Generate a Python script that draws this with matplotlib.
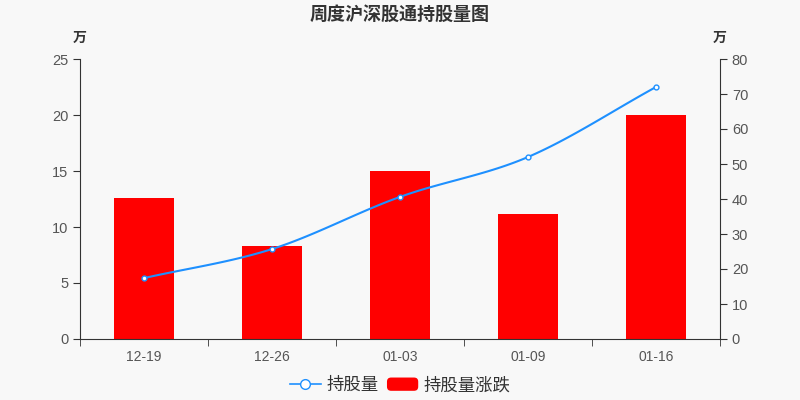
import numpy as np
import matplotlib
matplotlib.use('Agg')
import matplotlib.pyplot as plt
from matplotlib.patches import FancyBboxPatch
from matplotlib.legend_handler import HandlerPatch
from matplotlib.lines import Line2D

plt.rcParams['font.family'] = ['Noto Sans CJK SC', 'DejaVu Sans']

# data
dates = ['12-19', '12-26', '01-03', '01-09', '01-16']
change = [12.6, 8.3, 15.0, 11.2, 20.0]      # 持股量涨跌 (万), left axis
holding = [17.4, 25.7, 40.6, 52.0, 72.0]    # 持股量 (万), right axis

bg = '#f8f8f8'
axis_col = '#333333'
label_col = '#555555'
tick_font = 'Liberation Sans'


def smooth_xy(xs, ys, n=30):
    # cubic hermite between points, for a smooth display line only
    xs = np.asarray(xs, float)
    ys = np.asarray(ys, float)
    m = np.gradient(ys, xs)
    outx, outy = [], []
    for i in range(len(xs) - 1):
        t = np.linspace(0, 1, n)
        h = xs[i + 1] - xs[i]
        h00 = 2 * t**3 - 3 * t**2 + 1
        h10 = t**3 - 2 * t**2 + t
        h01 = -2 * t**3 + 3 * t**2
        h11 = t**3 - t**2
        outx.extend(xs[i] + t * h)
        outy.extend(h00 * ys[i] + h10 * h * m[i] + h01 * ys[i + 1] + h11 * h * m[i + 1])
    return np.array(outx), np.array(outy)


fig = plt.figure(figsize=(8, 4), dpi=100, facecolor=bg)
ax = fig.add_axes([0.1, 0.1525, 0.8, 0.70])
ax.set_facecolor(bg)
x = np.arange(len(dates))

ax.bar(x, change, width=0.47, color='#ff0000', zorder=2)
ax.set_xlim(-0.5, len(dates) - 0.5)
ax.set_ylim(0, 25)
ax.set_yticks(np.arange(0, 26, 5))
ax.set_xticks(x)
ax.set_xticklabels(dates)
ax.set_xticks(np.arange(-0.5, len(dates), 1), minor=True)
ax.tick_params(axis='x', which='major', length=0, pad=8, labelsize=10, labelcolor=label_col)
ax.tick_params(axis='x', which='minor', length=5, color=axis_col)
ax.tick_params(axis='y', length=5, color=axis_col, labelsize=10.5, labelcolor=label_col)
for s in ['top', 'right']:
    ax.spines[s].set_visible(False)
ax.spines['left'].set_color(axis_col)
ax.spines['bottom'].set_color(axis_col)

ax2 = ax.twinx()
ax2.set_ylim(0, 80)
ax2.set_yticks(np.arange(0, 81, 10))
ax2.tick_params(axis='y', length=5, color=axis_col, labelsize=10.5, labelcolor=label_col)
for s in ['top', 'left', 'bottom']:
    ax2.spines[s].set_visible(False)
ax2.spines['right'].set_color(axis_col)

for lab in ax.get_xticklabels() + ax.get_yticklabels() + ax2.get_yticklabels():
    lab.set_family(tick_font)

sx, sy = smooth_xy(x, holding)
ax2.plot(sx, sy, color='#1e90ff', lw=1.5, zorder=3)
ax2.plot(x, holding, 'o', ms=3.5, mfc='white', mec='#1e90ff', mew=1, zorder=4)

fig.text(0.5, 0.965, '周度沪深股通持股量图', ha='center', va='center',
         fontsize=13, fontweight='bold', color=axis_col)
fig.text(0.1, 0.905, '万', ha='center', va='center', fontsize=10,
         fontweight='bold', color=axis_col)
fig.text(0.9, 0.905, '万', ha='center', va='center', fontsize=10,
         fontweight='bold', color=axis_col)


class RoundRectHandler(HandlerPatch):
    def create_artists(self, legend, orig_handle, xdescent, ydescent,
                       width, height, fontsize, trans):
        p = FancyBboxPatch((-xdescent, -ydescent), width, height,
                           boxstyle='round,pad=0,rounding_size=3',
                           facecolor='#ff0000', edgecolor='none', transform=trans)
        return [p]


line_h = Line2D([], [], color='#1e90ff', lw=1.2, marker='o', ms=7,
                mfc='white', mec='#1e90ff', mew=1)
bar_h = FancyBboxPatch((0, 0), 1, 1, facecolor='#ff0000')
fig.legend([line_h, bar_h], ['持股量', '持股量涨跌'], loc='center',
           bbox_to_anchor=(0.5, 0.037), ncol=2, frameon=False, fontsize=12.5,
           handlelength=1.8, handleheight=0.8, columnspacing=0.5, handletextpad=0.3,
           labelcolor=axis_col,
           handler_map={FancyBboxPatch: RoundRectHandler()})

fig.savefig('out.png', dpi=100, facecolor=bg)
